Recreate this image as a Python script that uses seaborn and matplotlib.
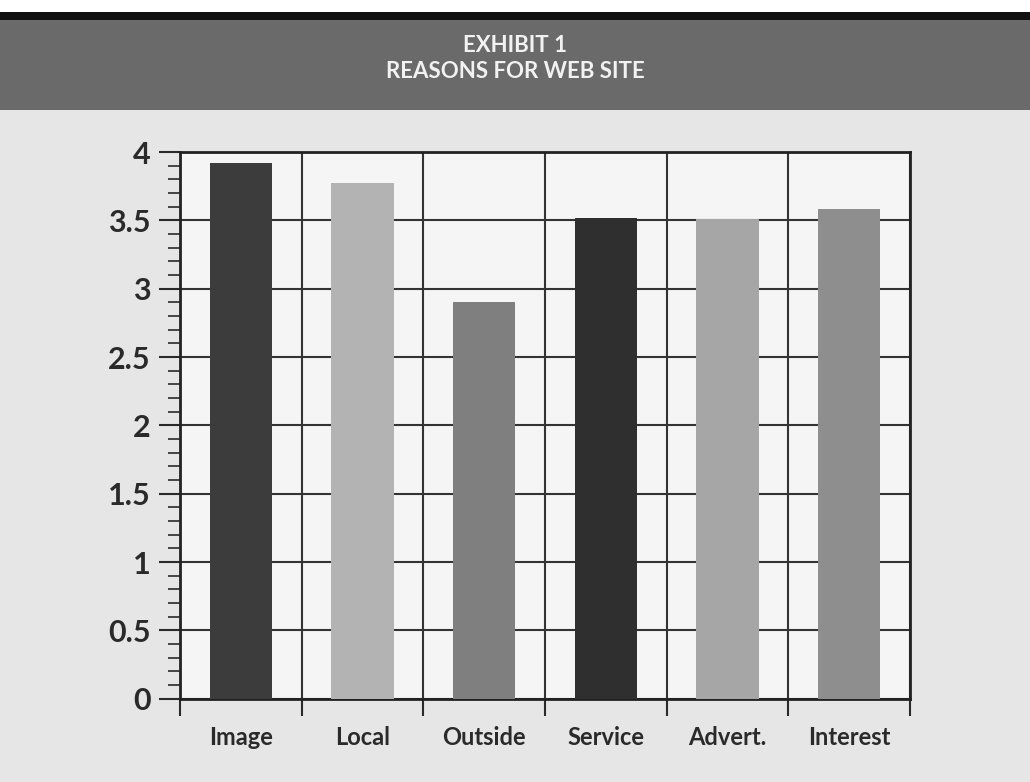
import matplotlib
matplotlib.use("Agg")
import matplotlib.pyplot as plt
import seaborn as sns
import pandas as pd
import numpy as np
from matplotlib.patches import Rectangle
from matplotlib.ticker import MultipleLocator, FixedLocator

categories = ["Image", "Local", "Outside", "Service", "Advert.", "Interest"]
values = [3.92, 3.77, 2.90, 3.52, 3.51, 3.585]
bar_colors = ["#3c3c3c", "#b3b3b3", "#7f7f7f", "#2f2f2f", "#a6a6a6", "#8e8e8e"]
y_ticks = [0, 0.5, 1, 1.5, 2, 2.5, 3, 3.5, 4]
y_ticklabels = ["0", "0.5", "1", "1.5", "2", "2.5", "3", "3.5", "4"]
title_lines = ["EXHIBIT 1", "REASONS FOR WEB SITE"]

sns.set_theme(style="white")
plt.rcParams["font.family"] = ["Lato", "DejaVu Sans"]

df = pd.DataFrame({"cat": categories, "val": values})

fig = plt.figure(figsize=(10.30, 7.82), dpi=100)
fig.patch.set_facecolor("#e6e6e6")

# header band
fig.patches.append(Rectangle((0, 1 - 110 / 782), 1, 90 / 782, transform=fig.transFigure,
                             facecolor="#6a6a6a", edgecolor="none", zorder=0))
fig.patches.append(Rectangle((0, 1 - 20 / 782), 1, 8 / 782, transform=fig.transFigure,
                             facecolor="#111111", edgecolor="none", zorder=0))
fig.patches.append(Rectangle((0, 1 - 12 / 782), 1, 12 / 782, transform=fig.transFigure,
                             facecolor="#ffffff", edgecolor="none", zorder=0))

fig.text(0.5, 1 - 46 / 782, title_lines[0], ha="center", va="center", color="#f2f2f2",
         fontsize=16, fontweight="bold")
fig.text(0.5, 1 - 71 / 782, title_lines[1], ha="center", va="center", color="#f2f2f2",
         fontsize=16, fontweight="bold")

ax = fig.add_axes([180 / 1030, 1 - 698.7 / 782, 730 / 1030, (698.7 - 152) / 782])
ax.set_facecolor("#f5f5f5")

sns.barplot(data=df, x="cat", y="val", hue="cat", palette=bar_colors, width=0.51,
            saturation=1, legend=False, ax=ax, zorder=3, edgecolor="none")

ax.set_xlim(-0.5, len(categories) - 0.5)
ax.set_ylim(0, 4)
ax.set_xlabel("")
ax.set_ylabel("")

ax.yaxis.set_major_locator(FixedLocator(y_ticks))
ax.set_yticklabels(y_ticklabels)
ax.yaxis.set_minor_locator(MultipleLocator(0.1))
ax.xaxis.set_minor_locator(FixedLocator(np.arange(-0.5, len(categories), 1.0)))

ax.tick_params(axis="y", which="major", direction="out", length=15, width=1.5,
               color="#2a2a2a", left=True, labelsize=22, labelcolor="#2a2a2a", pad=6)
ax.tick_params(axis="y", which="minor", direction="out", length=9, width=1.2,
               color="#2a2a2a", left=True)
ax.tick_params(axis="x", which="major", length=0, labelsize=17, labelcolor="#2a2a2a", pad=20)
ax.tick_params(axis="x", which="minor", direction="out", length=12, width=1.5,
               color="#2a2a2a", bottom=True)
for lab in ax.get_yticklabels():
    lab.set_fontweight("bold")
for lab in ax.get_xticklabels():
    lab.set_fontweight("bold")

ax.grid(True, axis="y", which="major", color="#333333", linewidth=1.5, zorder=1)
ax.grid(True, axis="x", which="minor", color="#333333", linewidth=1.5, zorder=1)
ax.set_axisbelow(True)

for s in ax.spines.values():
    s.set_visible(True)
    s.set_color("#222222")
    s.set_linewidth(2)

fig.savefig("out.png", dpi=100, facecolor=fig.get_facecolor())
